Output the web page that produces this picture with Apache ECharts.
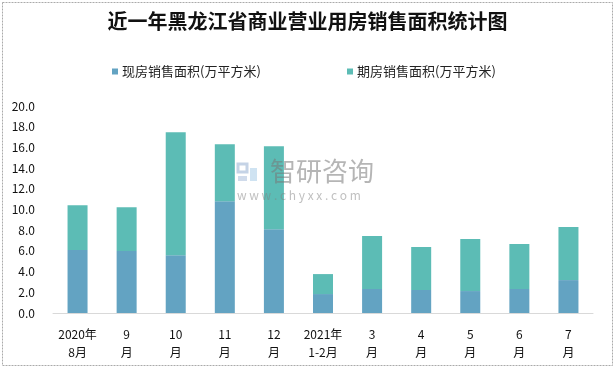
<!DOCTYPE html>
<html><head><meta charset="utf-8">
<script src="https://cdn.jsdelivr.net/npm/echarts@6/dist/echarts.min.js"></script>
<style>html,body{margin:0;padding:0;background:#fff}#c{width:615px;height:368px}</style>
</head><body><div id="c"></div>
<script>
var categories = ['2020年\n8月','9\n月','10\n月','11\n月','12\n月','2021年\n1-2月','3\n月','4\n月','5\n月','6\n月','7\n月'];
var xianfang = [6.08, 5.98, 5.59, 10.80, 8.10, 1.83, 2.32, 2.22, 2.12, 2.32, 3.18];
var qifang = [4.34, 4.24, 11.87, 5.50, 8.01, 1.93, 5.11, 4.15, 5.02, 4.34, 5.12];
var seriesNames = ['现房销售面积(万平方米)', '期房销售面积(万平方米)'];
var titleText = '近一年黑龙江省商业营业用房销售面积统计图';

var chart = echarts.init(document.getElementById('c'), null, {renderer:'canvas'});
var font = '"Noto Sans CJK SC", "Noto Sans", sans-serif';
var legendBase = {
  top: 65, itemWidth: 6, itemHeight: 6, itemGap: 0, icon: 'rect', padding: 0,
  textStyle: {fontFamily: font, fontSize: 13, color: '#222', padding: [0, 0, 0, -1]}
};
chart.setOption({
  animation: false,
  backgroundColor: '#fff',
  title: {
    text: titleText, left: 'center', top: 11, padding: 0,
    textStyle: {fontFamily: font, fontSize: 20, fontWeight: 'bold', color: '#111'}
  },
  legend: [
    Object.assign({left: 112, data: [seriesNames[0]]}, legendBase),
    Object.assign({left: 347, data: [seriesNames[1]]}, legendBase)
  ],
  grid: {left: 53, right: 22, top: 106, bottom: 55},
  xAxis: {
    type: 'category', data: categories,
    axisLine: {lineStyle: {color: '#d9d9d9'}},
    axisTick: {show: false},
    axisLabel: {fontFamily: font, fontSize: 12, color: '#111', lineHeight: 18, margin: 12, interval: 0}
  },
  yAxis: {
    type: 'value', min: 0, max: 20, interval: 2,
    splitLine: {show: false},
    axisLine: {show: false}, axisTick: {show: false},
    axisLabel: {fontFamily: font, fontSize: 12, color: '#111', formatter: function(v){return v.toFixed(1);}, margin: 18}
  },
  series: [
    {name: seriesNames[0], type: 'bar', stack: 's', data: xianfang, barWidth: 20, itemStyle: {color: '#63a3c2'}},
    {name: seriesNames[1], type: 'bar', stack: 's', data: qifang, barWidth: 20, itemStyle: {color: '#5cbcb5'}}
  ],
  graphic: [
    {type: 'rect', shape: {x: 2.5, y: 2.5, width: 610, height: 363}, style: {fill: 'none', stroke: '#aaa', lineWidth: 1, lineDash: [2, 1]}, silent: true},
    {type: 'rect', shape: {x: 238, y: 164, width: 9, height: 8}, style: {fill: 'none', stroke: 'rgba(150,175,210,0.55)', lineWidth: 3}, z: 10},
    {type: 'rect', shape: {x: 250, y: 168, width: 7, height: 13}, style: {fill: 'rgba(160,200,230,0.5)'}, z: 10},
    {type: 'rect', shape: {x: 238, y: 176, width: 9, height: 5}, style: {fill: 'rgba(150,175,210,0.45)'}, z: 10},
    {type: 'text', left: 270, top: 158, style: {text: '智研咨询', fontFamily: font, fontSize: 26, fill: 'rgba(120,120,120,0.55)'}, z: 10},
    {type: 'text', left: 237, top: 189, style: {text: 'w w w . c h y x x . c o m', fontFamily: font, fontSize: 12, fill: 'rgba(130,130,130,0.5)'}, z: 10}
  ]
});
</script></body></html>
